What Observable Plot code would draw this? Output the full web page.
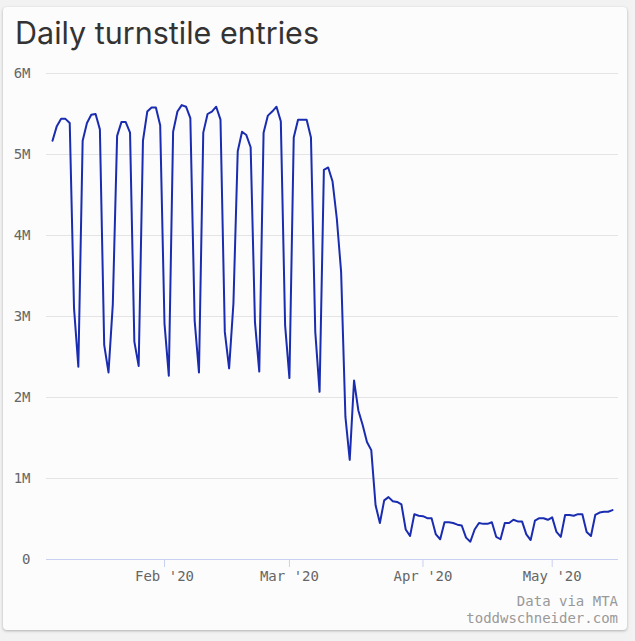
<!DOCTYPE html>
<html>
<head>
<meta charset="utf-8">
<script src="https://cdn.jsdelivr.net/npm/d3@7"></script>
<script src="https://cdn.jsdelivr.net/npm/@observablehq/plot@0.6"></script>
<style>
html, body { margin: 0; padding: 0; background: #f2f2f2; }
body { width: 635px; height: 641px; position: relative; overflow: hidden; }
#card { position: absolute; left: 3px; top: 7px; width: 624px; height: 623px; background: #fcfcfc; border-radius: 4px; box-shadow: 0 1px 3px rgba(0,0,0,0.28); }
#title { position: absolute; left: 15px; top: 18px; margin: 0; font-family: "Inter", sans-serif; font-weight: 400; font-size: 30.5px; line-height: 30px; color: #333; white-space: nowrap; }
#chart { position: absolute; left: 0; top: 0; }
.cap { position: absolute; right: 17px; font-family: "DejaVu Sans Mono", monospace; font-size: 14px; line-height: 14px; color: #999; text-align: right; white-space: nowrap; }
</style>
</head>
<body>
<div id="card"></div>
<div id="chart"></div>
<h1 id="title">Daily turnstile entries</h1>
<div class="cap" style="top:594px">Data via MTA</div>
<div class="cap" style="top:611px">toddwschneider.com</div>
<script>
// first day of the series (Monday, Jan 6 2020) and last day (Fri, May 15 2020)
const startDay = "2020-01-06";
const endDay = "2020-05-15";

// daily turnstile entries, in millions
const entriesMillions = [
  5.17, 5.35, 5.44, 5.44, 5.39, 3.10, 2.38,
  5.17, 5.39, 5.49, 5.50, 5.31, 2.65, 2.31,
  3.15, 5.23, 5.40, 5.40, 5.27, 2.69, 2.39,
  5.17, 5.53, 5.58, 5.58, 5.36, 2.91, 2.27,
  5.28, 5.53, 5.61, 5.59, 5.45, 2.95, 2.31,
  5.27, 5.50, 5.53, 5.59, 5.43, 2.81, 2.36,
  3.16, 5.04, 5.28, 5.24, 5.09, 2.93, 2.32,
  5.27, 5.48, 5.53, 5.59, 5.41, 2.89, 2.24,
  5.21, 5.43, 5.43, 5.43, 5.21, 2.81, 2.07,
  4.81, 4.84, 4.67, 4.21, 3.55, 1.76, 1.23,
  2.21, 1.84, 1.66, 1.45, 1.35, 0.67, 0.45,
  0.73, 0.77, 0.72, 0.71, 0.68, 0.37, 0.29,
  0.56, 0.54, 0.535, 0.51, 0.51, 0.31, 0.25,
  0.46, 0.46, 0.45, 0.43, 0.42, 0.27, 0.22,
  0.37, 0.45, 0.44, 0.44, 0.46, 0.28, 0.25,
  0.45, 0.45, 0.49, 0.47, 0.47, 0.31, 0.24,
  0.48, 0.51, 0.51, 0.49, 0.52, 0.34, 0.28,
  0.55, 0.55, 0.54, 0.56, 0.56, 0.34, 0.29,
  0.55, 0.58, 0.59, 0.59, 0.61
];

// axis ticks
const xTickDates = ["2020-02-01", "2020-03-01", "2020-04-01", "2020-05-01"];
const yTickValues = [0, 1e6, 2e6, 3e6, 4e6, 5e6, 6e6];
const yTickLabels = ["0", "1M", "2M", "3M", "4M", "5M", "6M"];

const days = d3.utcDay.range(new Date(startDay), d3.utcDay.offset(new Date(endDay), 1));
const data = days.map((d, i) => ({date: d, entries: entriesMillions[i] * 1e6}));
const xTicks = xTickDates.map(s => new Date(s));
const fmtX = d3.utcFormat("%b '%y");

const mono = "'DejaVu Sans Mono', monospace";

const chart = Plot.plot({
  width: 635,
  height: 600,
  marginLeft: 46,
  marginRight: 17,
  marginTop: 73,
  marginBottom: 41,
  style: {background: "transparent", fontFamily: mono, fontSize: "14px", overflow: "visible"},
  x: {type: "utc", inset: 6, label: null},
  y: {domain: [0, 6e6], label: null},
  marks: [
    Plot.gridY(yTickValues.slice(1), {stroke: "#e4e4e4", strokeOpacity: 1, strokeWidth: 1}),
    Plot.axisY({
      ticks: yTickValues,
      tickSize: 0,
      tickPadding: 16,
      tickFormat: v => yTickLabels[yTickValues.indexOf(v)],
      fill: "#666",
      fontSize: 14,
      fontFamily: mono,
      label: null
    }),
    Plot.ruleY([0], {stroke: "#c8d1f0", strokeWidth: 1.2}),
    Plot.axisX({
      ticks: xTicks,
      tickSize: 8,
      tickPadding: 4,
      tickFormat: fmtX,
      stroke: "#c8d1f0",
      fill: "#666",
      fontSize: 14,
      fontFamily: mono,
      label: null
    }),
    Plot.lineY(data, {x: "date", y: "entries", stroke: "#1a2cb0", strokeWidth: 2})
  ]
});
document.getElementById("chart").appendChild(chart);
</script>
</body>
</html>
